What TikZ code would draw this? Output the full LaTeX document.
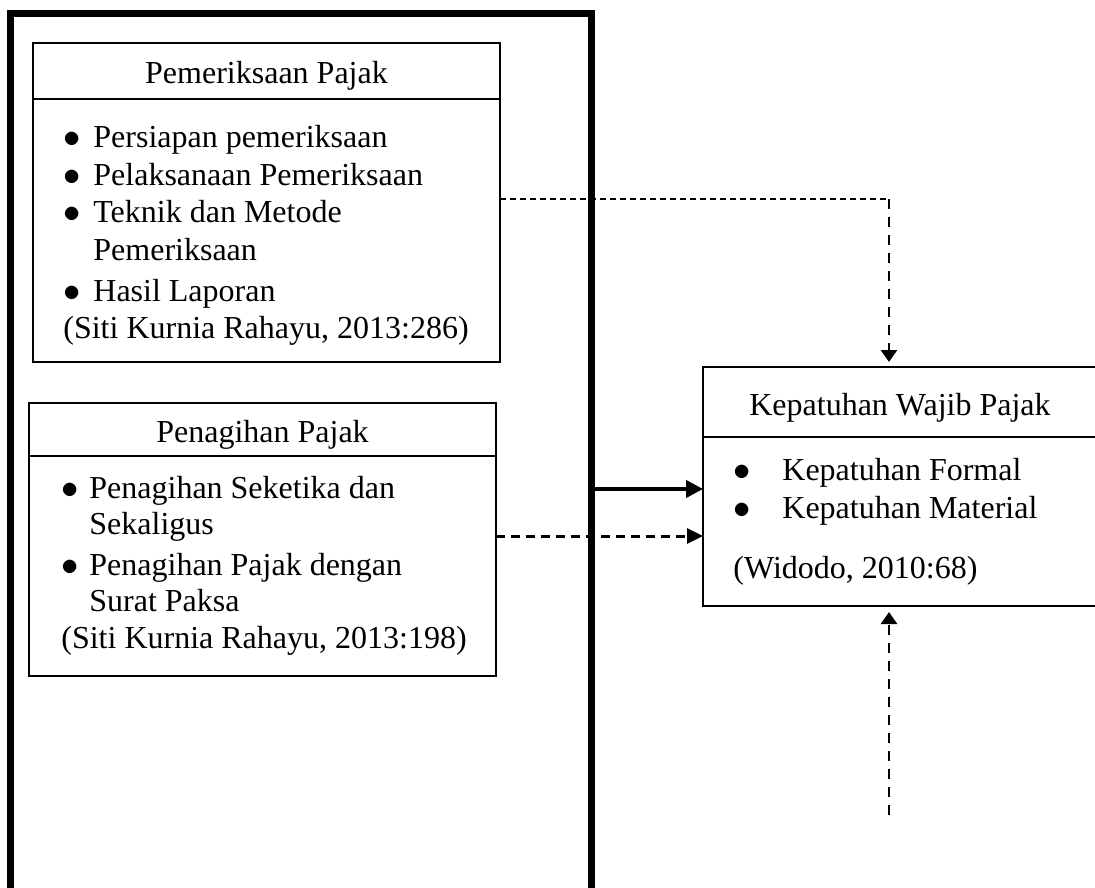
\documentclass[tikz,border=0pt]{standalone}
\usepackage{fontspec}
\setmainfont{Liberation Serif}
\usetikzlibrary{arrows.meta}

\newcommand{\bulletgap}[1]{\makebox[#1][l]{$\bullet$}}
\newcommand{\hanggap}[1]{\hspace*{#1}}

\tikzset{
  frame/.style={draw, line width=3.5pt, anchor=north west, inner sep=0pt, outer sep=0pt},
  headbox/.style={draw, line width=1.2pt, anchor=north west, inner sep=0pt, outer sep=0pt,
    text height=14pt, text depth=1pt, font=\fontsize{16pt}{19pt}\selectfont},
  bodybox/.style={draw, line width=1.2pt, anchor=north west, inner sep=0pt, outer sep=0pt},
  itemtext/.style={anchor=base west, inner sep=0pt, font=\fontsize{16pt}{19pt}\selectfont},
  solidarrow/.style={line width=2pt, -{Triangle[length=8.5pt,width=8.5pt]}},
  thindash/.style={line width=0.6pt, dash pattern=on 3pt off 2pt},
  dasharrow/.style={line width=1.3pt, dash pattern=on 5pt off 4pt, -{Triangle[length=6pt,width=8pt]}},
  widedash/.style={line width=1.5pt, dash pattern=on 4.5pt off 3pt, -{Triangle[length=8pt,width=7.5pt]}}
}

\begin{document}
\begin{tikzpicture}[x=0.5pt,y=-0.5pt]
  \useasboundingbox (0,0) rectangle (1095,887);
  \clip (0,0) rectangle (1095,887);

  % outer frame, open at the bottom
  \node[frame, minimum width=290.5pt, minimum height=500pt] (frame) at (10,14) {};

  % Pemeriksaan Pajak
  \node[headbox, minimum width=233.5pt, minimum height=28pt] (pemHead) at (33,43) {Pemeriksaan Pajak};
  \node[bodybox, minimum width=233.5pt, minimum height=131.5pt] (pemBody) at (pemHead.south west) {};
  \foreach \y/\txt [count=\i] in {148/\bulletgap{15pt}Persiapan pemeriksaan,
      186/\bulletgap{15pt}Pelaksanaan Pemeriksaan,
      223/\bulletgap{15pt}Teknik dan Metode,
      261/\hanggap{15pt}Pemeriksaan,
      301/\bulletgap{15pt}Hasil Laporan,
      338/{(Siti Kurnia Rahayu, 2013:286)}}
    \node[itemtext] (pemItem\i) at (63,\y) {\txt};

  % Penagihan Pajak
  \node[headbox, minimum width=233.5pt, minimum height=26.5pt] (penHead) at (29,403) {Penagihan Pajak};
  \node[bodybox, minimum width=233.5pt, minimum height=110pt] (penBody) at (penHead.south west) {};
  \foreach \y/\txt [count=\i] in {498/\bulletgap{14pt}Penagihan Seketika dan,
      534/\hanggap{14pt}Sekaligus,
      575/\bulletgap{14pt}Penagihan Pajak dengan,
      611/\hanggap{14pt}Surat Paksa,
      648/{(Siti Kurnia Rahayu, 2013:198)}}
    \node[itemtext] (penItem\i) at (61,\y) {\txt};

  % Kepatuhan Wajib Pajak
  \node[headbox, minimum width=197pt, minimum height=35pt] (kepHead) at (703,367) {Kepatuhan Wajib Pajak};
  \node[bodybox, minimum width=197pt, minimum height=84.5pt] (kepBody) at (kepHead.south west) {};
  \foreach \y/\txt [count=\i] in {480/\bulletgap{24.5pt}Kepatuhan Formal,
      518/\bulletgap{24.5pt}Kepatuhan Material,
      578/{(Widodo, 2010:68)}}
    \node[itemtext] (kepItem\i) at (733,\y) {\txt};

  % connectors
  \coordinate (bend) at (889,199);
  \coordinate (solidY) at (0,489);
  \coordinate (penOut) at (0,536);
  \coordinate (lowStart) at (889,815);
  \draw[thindash] (pemBody.east |- bend) -- (bend);
  \draw[dasharrow, shorten >=2.5pt] (bend) -- (bend |- kepHead.north);
  \draw[solidarrow] (frame.east |- solidY) -- (kepBody.west |- solidY);
  \draw[widedash] (penBody.east |- penOut) -- (kepBody.west |- penOut);
  \draw[dasharrow, shorten >=3pt] (lowStart) -- (lowStart |- kepBody.south);
\end{tikzpicture}
\end{document}
